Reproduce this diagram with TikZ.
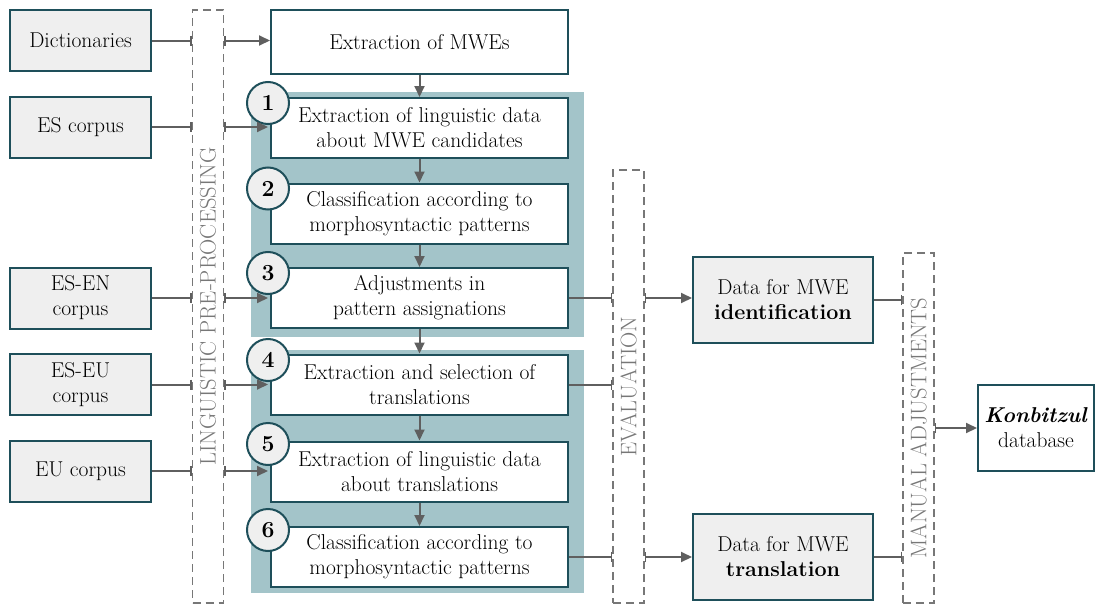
\documentclass[tikz,border=0pt]{standalone}
\usetikzlibrary{arrows.meta}
\definecolor{bordc}{HTML}{1E4F5A}
\definecolor{panelc}{HTML}{A3C4C9}
\definecolor{graybg}{HTML}{EFEFEF}
\definecolor{arrc}{HTML}{5F5F5F}
\definecolor{dashc}{HTML}{777777}
\tikzset{
  txt/.style={font=\fontsize{21.5}{25}\selectfont, text=black},
  srcbox/.style={txt, draw=bordc, line width=2pt, fill=graybg, minimum width=141pt, minimum height=61pt, align=center, inner sep=0pt},
  stepbox/.style={txt, draw=bordc, line width=2pt, fill=white, minimum width=297pt, minimum height=60pt, align=center, inner sep=0pt},
  databox/.style={txt, draw=bordc, line width=2pt, fill=graybg, minimum width=180pt, minimum height=86pt, align=center, inner sep=0pt},
  numc/.style={circle, draw=bordc, line width=2pt, fill=graybg, minimum size=42pt, inner sep=0pt, font=\fontsize{23}{23}\selectfont\bfseries},
  dashbox/.style={draw=dashc, line width=1.6pt, dash pattern=on 8pt off 5pt, minimum width=31pt, inner sep=0pt},
  vlabel/.style={rotate=90, text=dashc, font=\fontsize{22.5}{22.5}\selectfont},
  panel/.style={fill=panelc, draw=none, minimum width=333pt, inner sep=0pt},
  ln/.style={draw=arrc, line width=2pt, -{Bar[width=10pt,line width=1.6pt]}},
  arr/.style={draw=arrc, line width=2pt, {Bar[width=10pt,line width=1.6pt]}-{Triangle[length=11pt,width=10pt]}},
  darr/.style={draw=arrc, line width=2pt, -{Triangle[length=11pt,width=10pt]}}
}
\begin{document}
\begin{tikzpicture}[x=1pt,y=-1pt]
\useasboundingbox (0,0) rectangle (1104,605);
% panels
\node[panel, minimum height=245pt] (p1) at (417.5,214.5) {};
\node[panel, minimum height=243pt] (p2) at (417.5,471.5) {};
% dashed boxes
\node[dashbox, minimum height=593pt] (lpp) at (208,306.5) {};
\node[vlabel] (lppl) at (lpp.center) {LINGUISTIC PRE-PROCESSING};
\node[dashbox, minimum height=433pt] (ev) at (628.5,386.5) {};
\node[vlabel] (evl) at (ev.center) {EVALUATION};
\node[dashbox, minimum height=350pt] (ma) at (918.5,428) {};
\node[vlabel] (mal) at (ma.center) {MANUAL ADJUSTMENTS};
% sources
\node[srcbox] (dict) at (80.5,40.5) {Dictionaries};
\node[srcbox] (es) at (80.5,127) {ES corpus};
\node[srcbox] (esen) at (80.5,298) {ES-EN\\corpus};
\node[srcbox] (eseu) at (80.5,384.5) {ES-EU\\corpus};
\node[srcbox] (eu) at (80.5,471) {EU corpus};
% steps
\node[stepbox, minimum height=64pt] (mwe) at (419.5,42) {Extraction of MWEs};
\node[stepbox] (s1) at (419.5,128) {Extraction of linguistic data\\about MWE candidates};
\node[stepbox] (s2) at (419.5,213.5) {Classification according to\\morphosyntactic patterns};
\node[stepbox] (s3) at (419.5,298) {Adjustments in\\pattern assignations};
\node[stepbox] (s4) at (419.5,384.5) {Extraction and selection of\\translations};
\node[stepbox] (s5) at (419.5,471.5) {Extraction of linguistic data\\about translations};
\node[stepbox] (s6) at (419.5,557) {Classification according to\\morphosyntactic patterns};
\node[numc] (c1) at (268,103) {1};
\node[numc] (c2) at (268,188.5) {2};
\node[numc] (c3) at (268,273) {3};
\node[numc] (c4) at (268,360) {4};
\node[numc] (c5) at (268,444) {5};
\node[numc] (c6) at (268,530) {6};
% data boxes
\node[databox] (did) at (783,300) {Data for MWE\\\textbf{identification}};
\node[databox] (dtr) at (783,556.5) {Data for MWE\\\textbf{translation}};
\node[txt, draw=bordc, line width=2pt, fill=white, minimum width=116pt, minimum height=86pt, align=center, inner sep=0pt] (kb) at (1036,428) {\textbf{\textit{Konbitzul}}\\database};
% vertical arrows
\draw[darr] (mwe.south) -- (s1.north);
\draw[darr] (s1.south) -- (s2.north);
\draw[darr] (s2.south) -- (s3.north);
\draw[darr] (s3.south) -- (s4.north);
\draw[darr] (s4.south) -- (s5.north);
\draw[darr] (s5.south) -- (s6.north);
% source connectors
\draw[ln] (dict.east) -- (dict.east -| lpp.west);
\draw[ln] (es.east) -- (es.east -| lpp.west);
\draw[ln] (esen.east) -- (esen.east -| lpp.west);
\draw[ln] (eseu.east) -- (eseu.east -| lpp.west);
\draw[ln] (eu.east) -- (eu.east -| lpp.west);
\draw[arr] (dict.east -| lpp.east) -- (dict.east -| mwe.west);
\draw[arr] (es.east -| lpp.east) -- (es.east -| c1.south);
\draw[arr] (esen.east -| lpp.east) -- (esen.east -| c1.south);
\draw[arr] (eseu.east -| lpp.east) -- (eseu.east -| c1.south);
\draw[arr] (eu.east -| lpp.east) -- (eu.east -| c1.south);
% evaluation connectors
\draw[ln] (s3.east) -- (s3.east -| ev.west);
\draw[ln] (s4.east) -- (s4.east -| ev.west);
\draw[ln] (s6.east) -- (s6.east -| ev.west);
\draw[arr] (s3.east -| ev.east) -- (s3.east -| did.west);
\draw[arr] (s6.east -| ev.east) -- (s6.east -| dtr.west);
% manual adjustments
\draw[ln] (did.east) -- (did.east -| ma.west);
\draw[ln] (dtr.east) -- (dtr.east -| ma.west);
\draw[arr] (kb.west -| ma.east) -- (kb.west);
\end{tikzpicture}
\end{document}
